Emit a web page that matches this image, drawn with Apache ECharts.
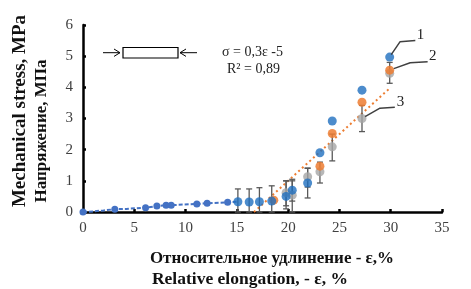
<!DOCTYPE html>
<html>
<head>
<meta charset="utf-8">
<script src="https://cdn.jsdelivr.net/npm/echarts@6/dist/echarts.min.js"></script>
<style>html,body{margin:0;padding:0;background:#fff}#container{width:471px;height:289px}</style>
</head>
<body>
<div id="container"></div>
<script>
var dom = document.getElementById("container");
var myChart = echarts.init(dom);

// начальный участок кривой (линия)
var curveX = [0, 1, 2, 3.1, 4.2, 5.1, 6.1, 7.2, 8.1, 8.6, 11.1, 12.1, 14.1, 15.1];
var curveY = [0, 0.02, 0.05, 0.09, 0.1, 0.12, 0.14, 0.19, 0.22, 0.22, 0.26, 0.28, 0.31, 0.33];
var curveMarks = [1, 0, 0, 1, 0, 0, 1, 1, 1, 1, 1, 1, 1, 0];

// образец 1 (синий)
var s1X = [15.1, 16.2, 17.2, 18.4, 19.8, 20.4, 21.9, 23.1, 24.3, 27.2, 29.9];
var s1Y = [0.33, 0.32, 0.33, 0.35, 0.5, 0.7, 0.93, 1.9, 2.92, 3.91, 4.97];
var s1Lo = [0, 0, 0, 0, 0.2, 0.35, 0.45, null, null, null, null];
var s1Hi = [0.74, 0.74, 0.78, 0.84, 1.0, 1.05, 1.41, null, null, null, null];

// образец 2 (оранжевый)
var s2X = [18.6, 23.1, 24.3, 27.2, 29.9];
var s2Y = [0.38, 1.47, 2.52, 3.52, 4.55];

// образец 3 (серый)
var s3X = [19.8, 20.4, 21.9, 23.1, 24.3, 27.2, 29.9];
var s3Y = [0.62, 0.54, 1.13, 1.29, 2.09, 3.0, 4.45];
var s3Lo = [0.1, 0.0, 0.8, 0.93, 1.64, 2.58, 4.13];
var s3Hi = [1.0, 1.0, 1.4, 1.6, 2.5, 3.42, 4.8];

// линейная аппроксимация σ = 0,3ε - 5
var trendX = [16.67, 30];
var trendY = [0, 4];

// выноски 1, 2, 3
var leaders = [
    {text: '1', pts: [[30.05, 5.05], [30.9, 5.46], [32.4, 5.5]], lab: [32.9, 5.68]},
    {text: '2', pts: [[30.3, 4.6], [31.9, 4.79], [33.6, 4.82]], lab: [34.1, 5.0]},
    {text: '3', pts: [[27.5, 3.06], [28.95, 3.33], [30.4, 3.36]], lab: [30.95, 3.54]}
];

var xTicks = [0, 5, 10, 15, 20, 25, 30, 35];
var yTicks = [0, 1, 2, 3, 4, 5, 6];

function zip(a, b) {
    var out = [];
    for (var i = 0; i < a.length; i++) out.push([a[i], b[i]]);
    return out;
}
function bars(xs, lo, hi) {
    var out = [];
    for (var i = 0; i < xs.length; i++) {
        if (lo[i] == null) continue;
        out.push([xs[i], lo[i], hi[i]]);
    }
    return out;
}

function renderErr(params, api) {
    var x = api.value(0);
    var lo = api.coord([x, api.value(1)]);
    var hi = api.coord([x, api.value(2)]);
    var w = 3;
    var st = {stroke: '#595959', lineWidth: 1.3};
    return {
        type: 'group',
        children: [
            {type: 'line', shape: {x1: lo[0], y1: lo[1], x2: hi[0], y2: hi[1]}, style: st},
            {type: 'line', shape: {x1: lo[0] - w, y1: lo[1], x2: lo[0] + w, y2: lo[1]}, style: st},
            {type: 'line', shape: {x1: hi[0] - w, y1: hi[1], x2: hi[0] + w, y2: hi[1]}, style: st}
        ]
    };
}

var curveData = [];
for (var i = 0; i < curveX.length; i++) {
    curveData.push({value: [curveX[i], curveY[i]], symbolSize: curveMarks[i] ? 7 : 0});
}

var serif = '"Liberation Serif", "DejaVu Serif", serif';

var leaderSeries = leaders.map(function (l) {
    return {
        type: 'line',
        data: l.pts,
        symbol: 'none',
        silent: true,
        z: 5,
        lineStyle: {color: '#404040', width: 1.5},
        markPoint: {
            symbol: 'circle', symbolSize: 1,
            itemStyle: {color: 'transparent'},
            label: {show: true, formatter: l.text, color: '#222', fontFamily: serif, fontSize: 15},
            data: [{coord: l.lab}]
        }
    };
});

var option = {
    animation: false,
    grid: {left: 83, right: 29, top: 25, bottom: 77},
    xAxis: {
        type: 'value', min: 0, max: 35, interval: 5,
        axisLine: {lineStyle: {color: '#000', width: 2.5}},
        axisTick: {inside: true, length: 3, lineStyle: {color: '#000', width: 2.5}},
        axisLabel: {color: '#404040', fontFamily: serif, fontSize: 15, margin: 9,
            formatter: function (v) { return xTicks.indexOf(v) >= 0 ? v : ''; }},
        splitLine: {show: false}
    },
    yAxis: {
        type: 'value', min: 0, max: 6, interval: 1,
        axisLine: {show: true, lineStyle: {color: '#000', width: 2.5}},
        axisTick: {show: true, inside: true, length: 3, lineStyle: {color: '#000', width: 2.5}},
        axisLabel: {color: '#404040', fontFamily: serif, fontSize: 15, margin: 10,
            formatter: function (v) { return yTicks.indexOf(v) >= 0 ? v : ''; }},
        splitLine: {show: false}
    },
    graphic: [
        {type: 'text', rotation: Math.PI / 2, x: 20, y: 111,
            style: {text: 'Mechanical stress, MPa', font: 'bold 19px ' + serif, fill: '#111', align: 'center', verticalAlign: 'middle'}},
        {type: 'text', rotation: Math.PI / 2, x: 42, y: 131,
            style: {text: 'Напряжение, МПа', font: 'bold 17px ' + serif, fill: '#111', align: 'center', verticalAlign: 'middle'}},
        {type: 'text', x: 272, y: 259,
            style: {text: 'Относительное удлинение - ε,%', font: 'bold 17px ' + serif, fill: '#111', align: 'center', verticalAlign: 'middle'}},
        {type: 'text', x: 250, y: 279,
            style: {text: 'Relative elongation, - ε, %', font: 'bold 17.5px ' + serif, fill: '#111', align: 'center', verticalAlign: 'middle'}},
        {type: 'text', x: 222, y: 52,
            style: {text: 'σ = 0,3ε -5', font: '14px ' + serif, fill: '#222', verticalAlign: 'middle'}},
        {type: 'text', x: 227, y: 69,
            style: {text: 'R² = 0,89', font: '14px ' + serif, fill: '#222', verticalAlign: 'middle'}},
        {type: 'rect', shape: {x: 123, y: 47.5, width: 55, height: 10.5},
            style: {fill: '#fff', stroke: '#000', lineWidth: 1.2}},
        {type: 'polyline', shape: {points: [[103, 52.7], [120, 52.7]]}, style: {stroke: '#000', lineWidth: 1}},
        {type: 'polyline', shape: {points: [[114, 49], [120, 52.7], [114, 56.4]]}, style: {stroke: '#000', fill: null, lineWidth: 1}},
        {type: 'polyline', shape: {points: [[197, 52.7], [180, 52.7]]}, style: {stroke: '#000', lineWidth: 1}},
        {type: 'polyline', shape: {points: [[186, 49], [180, 52.7], [186, 56.4]]}, style: {stroke: '#000', fill: null, lineWidth: 1}}
    ],
    series: [
        {
            type: 'line', data: zip(trendX, trendY), symbol: 'none', z: 1,
            lineStyle: {color: '#ed7d31', width: 2, type: [2, 3]}
        },
        {
            type: 'custom', data: bars(s3X, s3Lo, s3Hi), renderItem: renderErr, z: 2
        },
        {
            type: 'custom', data: bars(s1X, s1Lo, s1Hi), renderItem: renderErr, z: 2
        },
        {
            type: 'line', data: curveData, symbol: 'circle', z: 3,
            itemStyle: {color: '#4472c4'},
            lineStyle: {color: '#4472c4', width: 2, type: [4, 2]}
        },
        {
            type: 'scatter', data: zip(s3X, s3Y), symbolSize: 9, z: 3,
            itemStyle: {color: '#a5a5a5'}
        },
        {
            type: 'scatter', data: zip(s2X, s2Y), symbolSize: 9, z: 4,
            itemStyle: {color: '#ed7d31', opacity: 0.85}
        },
        {
            type: 'scatter', data: zip(s1X, s1Y), symbolSize: 9, z: 4,
            itemStyle: {color: '#1f6fbf'}
        }
    ].concat(leaderSeries)
};

if (option && typeof option === 'object') {
    myChart.setOption(option);
}
</script>
</body>
</html>
